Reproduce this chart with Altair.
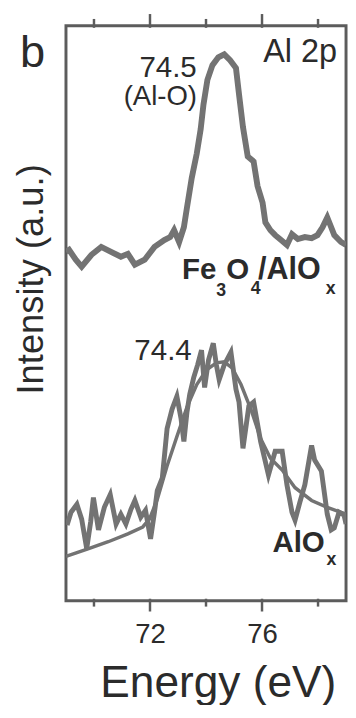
import altair as alt
import pandas as pd

# ---- data (energy in eV, intensity in arbitrary units) ----
top_energy = [69.00, 69.11, 69.35, 69.56, 69.91, 70.26, 70.61, 70.96, 71.21, 71.46,
              71.81, 72.16, 72.51, 72.72, 72.86, 73.04, 73.21, 73.32, 73.49, 73.67,
              73.81, 73.91, 74.05, 74.23, 74.44, 74.65, 74.86, 75.07, 75.18, 75.32,
              75.49, 75.70, 75.84, 76.02, 76.12, 76.30, 76.47, 76.68, 76.89, 77.07,
              77.28, 77.53, 77.77, 77.98, 78.16, 78.33, 78.47, 78.58, 78.82, 79.00]
top_intensity = [355, 357, 347, 340, 352, 360, 355, 350, 353, 342,
                 347, 360, 367, 370, 377, 365, 380, 400, 430, 455,
                 480, 505, 530, 545, 553, 556, 550, 542, 515, 482,
                 452, 447, 422, 405, 385, 377, 372, 367, 362, 373,
                 368, 370, 369, 372, 380, 390, 380, 372, 365, 362]

bottom_energy = [69.04, 69.18, 69.39, 69.56, 69.74, 69.88, 69.98, 70.16, 70.37, 70.58,
                 70.79, 70.96, 71.14, 71.32, 71.46, 71.67, 71.84, 72.02, 72.16, 72.26,
                 72.44, 72.61, 72.79, 72.96, 73.11, 73.21, 73.32, 73.42, 73.56, 73.70,
                 73.84, 73.95, 74.09, 74.26, 74.37, 74.47, 74.65, 74.89, 75.07, 75.18,
                 75.32, 75.53, 75.70, 75.95, 76.23, 76.47, 76.72, 76.89, 77.07, 77.18,
                 77.35, 77.53, 77.77, 77.88, 78.12, 78.33, 78.47, 78.58, 78.75, 78.93,
                 79.00]
bottom_intensity = [77, 90, 98, 83, 53, 80, 105, 72, 95, 108,
                    78, 88, 78, 93, 102, 85, 92, 63, 90, 112,
                    125, 175, 195, 208, 185, 162, 192, 210, 227, 240,
                    255, 217, 245, 262, 240, 225, 240, 253, 215, 202,
                    155, 198, 202, 162, 128, 152, 152, 118, 90, 82,
                    100, 118, 158, 143, 132, 88, 72, 74, 90, 87,
                    78]

fit_energy = [69.00, 69.81, 70.51, 71.21, 71.74, 71.98, 72.26, 72.61, 72.96, 73.32,
              73.67, 74.02, 74.37, 74.65, 74.93, 75.25, 75.60, 75.95, 76.30, 76.72,
              77.18, 77.77, 78.33, 79.00]
fit_intensity = [45, 53, 60, 68, 75, 83, 103, 137, 167, 197,
                 220, 235, 242, 243, 237, 220, 195, 165, 145, 133,
                 115, 102, 95, 88]

major_ticks = [72, 76]
minor_ticks = [70, 74, 78]

FONT = "Liberation Sans"
LINE = "#737373"
INK = "#2b2b2b"
FRAME = "#5c5c5c"

df_top = pd.DataFrame({"E": top_energy, "I": top_intensity})
df_bot = pd.DataFrame({"E": bottom_energy, "I": bottom_intensity})
df_fit = pd.DataFrame({"E": fit_energy, "I": fit_intensity})

xscale = alt.Scale(domain=[69, 79], nice=False, zero=False)
yscale = alt.Scale(domain=[0, 585], nice=False, zero=False)

bottom_axis = alt.Axis(orient="bottom", values=major_ticks, domain=False, grid=False,
                       ticks=False, title=None, labelFont=FONT, labelFontSize=28,
                       labelColor=INK, labelPadding=21)

top_line = alt.Chart(df_top).mark_line(color=LINE, strokeWidth=6, clip=True).encode(
    x=alt.X("E:Q", scale=xscale, axis=bottom_axis),
    y=alt.Y("I:Q", scale=yscale, axis=None),
)
fit_line = alt.Chart(df_fit).mark_line(color=LINE, strokeWidth=3.5, clip=True).encode(
    x=alt.X("E:Q", scale=xscale),
    y=alt.Y("I:Q", scale=yscale, axis=None),
)
bot_line = alt.Chart(df_bot).mark_line(color=LINE, strokeWidth=5, clip=True).encode(
    x=alt.X("E:Q", scale=xscale),
    y=alt.Y("I:Q", scale=yscale, axis=None),
)


def ticks(values, y0, y1):
    d = pd.DataFrame({"E": values})
    return alt.Chart(d).mark_rule(color=FRAME, strokeWidth=2.5).encode(
        x=alt.X("E:Q", scale=xscale),
        y=alt.value(y0), y2=alt.value(y1),
    )


tick_layers = [
    ticks(major_ticks, 583, 596),
    ticks(minor_ticks, 583, 591),
    ticks(major_ticks, -12, 2),
    ticks(minor_ticks, -7, 2),
]


def label(text, e, i, size, align="left", bold=False):
    d = pd.DataFrame({"t": [text], "E": [e], "I": [i]})
    return alt.Chart(d).mark_text(
        font=FONT, fontSize=size, fontWeight="bold" if bold else "normal",
        align=align, baseline="alphabetic", color=INK,
    ).encode(
        x=alt.X("E:Q", scale=xscale),
        y=alt.Y("I:Q", scale=yscale, axis=None),
        text="t:N",
    )


def plabel(text, x, y, size, angle=0, baseline="alphabetic"):
    d = pd.DataFrame({"t": [text]})
    return alt.Chart(d).mark_text(
        font=FONT, fontSize=size, align="center", baseline=baseline,
        angle=angle, color=INK,
    ).encode(x=alt.value(x), y=alt.value(y), text="t:N")


labels = [
    label("74.5", 73.67, 533, 30, align="right"),
    label("(Al-O)", 72.37, 504, 28, align="center"),
    label("Al 2p", 78.68, 548, 33, align="right"),
    label("74.4", 73.49, 245, 30, align="right"),
    # Fe3O4/AlOx
    label("Fe", 73.14, 327, 30, bold=True),
    label("3", 74.37, 310, 18, bold=True),
    label("O", 74.72, 327, 30, bold=True),
    label("4", 75.60, 312, 18, bold=True),
    label("/AlO", 75.86, 327, 31, bold=True),
    label("x", 78.28, 312, 18, bold=True),
    # AlOx
    label("AlO", 76.37, 50, 30, bold=True),
    label("x", 78.30, 36, 18, bold=True),
    # outside texts
    plabel("b", -34, 42, 46),
    plabel("Intensity (a.u.)", -34, 258, 37, angle=270, baseline="middle"),
    plabel("Energy (eV)", 155, 683, 45),
]

chart = alt.layer(top_line, fit_line, bot_line, *tick_layers, *labels).properties(
    width=285, height=585,
    autosize=alt.AutoSizeParams(type="none"),
    padding={"left": 59, "top": 12, "right": 2, "bottom": 100},
).configure_view(stroke=FRAME, strokeWidth=3)

chart.save("out.html", embed_options={"renderer": "svg", "actions": False})
